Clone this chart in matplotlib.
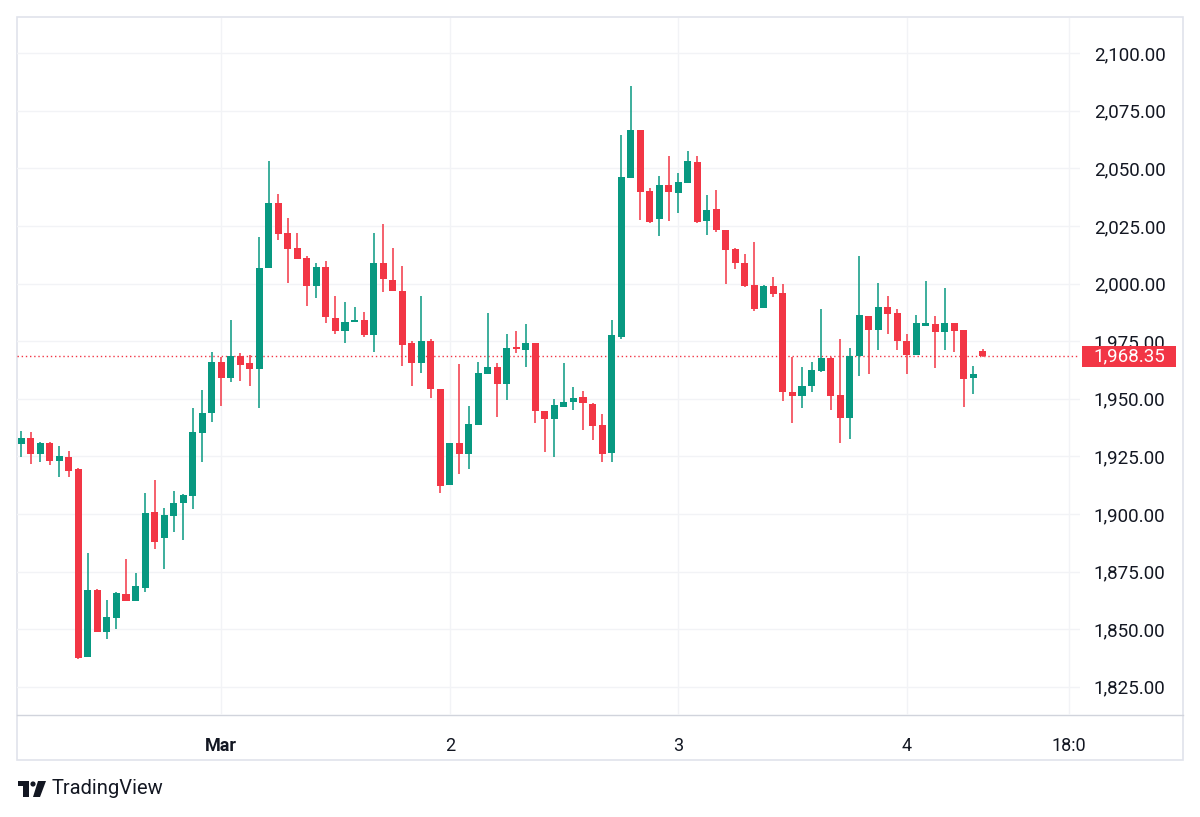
import numpy as np
import matplotlib.pyplot as plt
from matplotlib.patches import Rectangle, Polygon, Circle
from matplotlib.ticker import FuncFormatter

# hourly candles, x = hours from Mar 1 00:00
hours = list(range(-21, 81))
opens = [1930.4, 1932.8, 1926.0, 1931.0, 1923.1, 1924.7, 1919.4, 1838.0, 1867.0, 1848.9,
         1855.0, 1865.2, 1862.2, 1867.7, 1901.0, 1889.4, 1899.1, 1904.6, 1907.8, 1935.3,
         1943.9, 1965.9, 1958.9, 1968.6, 1965.4, 1962.8, 2006.9, 2034.8, 2022.1, 2015.4,
         2011.2, 1999.1, 2007.3, 1985.2, 1979.4, 1983.5, 1984.2, 1977.7, 2008.8, 2001.6,
         1996.8, 1974.1, 1965.7, 1975.2, 1954.2, 1912.6, 1930.6, 1926.0, 1938.6, 1960.8,
         1963.6, 1956.3, 1972.2, 1971.2, 1974.4, 1944.8, 1941.1, 1946.3, 1948.4, 1950.6,
         1947.7, 1938.5, 1926.6, 1976.7, 2045.7, 2066.7, 2040.2, 2027.9, 2042.8, 2039.2,
         2043.8, 2052.9, 2027.2, 2032.5, 2023.3, 2014.9, 2008.8, 1999.4, 1989.3, 1999.0,
         1995.8, 1952.8, 1951.2, 1955.7, 1962.2, 1967.8, 1951.6, 1941.5, 1968.7, 1985.9,
         1979.9, 1989.7, 1987.4, 1975.2, 1969.0, 1981.6, 1982.5, 1978.8, 1983.0, 1979.9,
         1959.2, 1970.9]
highs = [1936.2, 1935.4, 1931.2, 1931.2, 1929.7, 1927.5, 1920.1, 1882.9, 1867.3, 1862.6,
         1866.3, 1880.3, 1874.2, 1909.0, 1914.7, 1902.4, 1910.0, 1908.7, 1946.1, 1953.8,
         1970.4, 1968.0, 1984.2, 1970.0, 1969.0, 2020.4, 2053.4, 2038.8, 2028.6, 2022.1,
         2012.0, 2008.8, 2009.8, 1994.6, 1992.1, 1989.7, 1987.8, 2022.1, 2025.9, 2015.3,
         2007.6, 1975.2, 1994.6, 1975.8, 1954.2, 1930.6, 1964.9, 1946.9, 1965.8, 1987.4,
         1965.7, 1978.0, 1979.6, 1982.5, 1974.4, 1944.8, 1949.9, 1965.4, 1955.0, 1953.4,
         1948.3, 1943.4, 1984.2, 2064.5, 2085.8, 2066.7, 2041.4, 2046.7, 2055.4, 2047.9,
         2057.7, 2055.4, 2038.5, 2040.6, 2023.3, 2015.3, 2012.9, 2018.2, 1999.4, 2002.7,
         1999.7, 1968.0, 1963.9, 1965.8, 1989.0, 1968.3, 1975.9, 1971.9, 2012.1, 1985.9,
         2000.1, 1994.6, 1988.8, 1978.0, 1986.2, 2001.1, 1985.9, 1997.9, 1983.0, 1979.9,
         1964.2, 1971.5]
lows = [1924.9, 1921.7, 1922.7, 1921.3, 1916.2, 1916.2, 1836.9, 1838.0, 1848.9, 1845.6,
        1849.9, 1862.2, 1862.2, 1866.3, 1884.8, 1876.0, 1892.3, 1888.7, 1902.0, 1922.7,
        1940.0, 1946.8, 1957.4, 1957.8, 1955.5, 1946.1, 2006.9, 2018.9, 2000.1, 2010.7,
        1990.3, 1993.6, 1982.7, 1978.1, 1974.1, 1983.5, 1976.7, 1970.4, 1996.5, 1996.9,
        1964.4, 1955.7, 1961.0, 1950.2, 1908.9, 1912.6, 1917.2, 1919.4, 1938.6, 1960.8,
        1941.9, 1949.5, 1970.0, 1963.9, 1939.6, 1927.0, 1924.6, 1946.3, 1945.1, 1936.4,
        1932.1, 1922.7, 1922.7, 1975.8, 2045.7, 2027.6, 2026.2, 2020.7, 2027.3, 2030.5,
        2043.8, 2026.2, 2021.1, 2022.6, 1999.8, 2006.2, 1998.7, 1988.2, 1989.3, 1994.3,
        1949.0, 1939.6, 1945.8, 1953.1, 1961.8, 1945.1, 1930.6, 1932.5, 1960.0, 1960.6,
        1971.2, 1978.1, 1971.2, 1960.7, 1969.0, 1981.6, 1963.5, 1971.2, 1970.4, 1946.3,
        1951.9, 1968.0]
closes = [1932.8, 1926.0, 1931.0, 1923.1, 1925.2, 1918.8, 1837.3, 1867.0, 1848.9, 1855.4,
          1865.5, 1862.2, 1868.7, 1900.6, 1888.0, 1899.5, 1904.9, 1908.2, 1935.7, 1943.9,
          1965.9, 1958.9, 1968.6, 1964.5, 1962.8, 2006.6, 2034.8, 2021.5, 2015.0, 2010.7,
          1999.1, 2007.3, 1985.6, 1979.4, 1983.5, 1984.2, 1977.7, 2008.8, 2001.9, 1996.9,
          1973.4, 1965.7, 1975.2, 1954.1, 1912.1, 1930.6, 1926.0, 1938.9, 1961.0, 1963.6,
          1956.3, 1971.9, 1971.8, 1974.4, 1944.8, 1941.1, 1947.1, 1948.7, 1950.5, 1948.0,
          1938.2, 1926.0, 1977.7, 2046.4, 2066.7, 2039.9, 2026.9, 2042.8, 2039.9, 2044.0,
          2053.4, 2026.9, 2031.9, 2023.3, 2014.6, 2008.8, 1998.9, 1988.8, 1999.0, 1995.3,
          1953.1, 1951.2, 1955.5, 1962.5, 1967.8, 1951.3, 1941.8, 1968.6, 1986.4, 1979.9,
          1989.7, 1986.8, 1975.1, 1969.0, 1983.0, 1983.0, 1978.8, 1983.0, 1979.6, 1958.4,
          1960.6, 1968.35]

price_ticks = [1825, 1850, 1875, 1900, 1925, 1950, 1975, 2000, 2025, 2050, 2075, 2100]
time_ticks = [0, 24, 48, 72, 89]
time_labels = ["Mar", "2", "3", "4", "18:0"]
last_price = 1968.35

UP = "#089981"
DOWN = "#F23645"
GRID = "#F2F3F6"
TEXT = "#131722"

plt.rcParams['font.family'] = ['Roboto', 'DejaVu Sans']

W, H = 1200, 817
fig = plt.figure(figsize=(W / 100, H / 100), dpi=100)

# background layer in pixel coordinates (frame, logo)
bg = fig.add_axes([0, 0, 1, 1], zorder=0)
bg.set_xlim(0, W)
bg.set_ylim(H, 0)
bg.axis("off")
bg.add_patch(Rectangle((17, 17), 1166, 743, fill=False, ec="#E0E3EB", lw=1.2))
bg.plot([17, 1183], [715, 715], color="#D1D4DC", lw=1.0)
# TradingView logo
bg.add_patch(Rectangle((18, 781), 11, 5, color=TEXT, lw=0))
bg.add_patch(Rectangle((23, 781), 6, 16, color=TEXT, lw=0))
bg.add_patch(Circle((33, 784), 2.6, color=TEXT, lw=0))
bg.add_patch(Polygon([(38, 781), (46, 781), (40, 797), (33, 797)], closed=True, color=TEXT, lw=0))
bg.text(52, 789, "TradingView", fontsize=14.5, color=TEXT, va="center", ha="left")

ax = fig.add_axes([17 / W, 1 - 715 / H, (1080 - 17) / W, (715 - 18) / H], zorder=1)
ax.patch.set_alpha(0)

o = np.array(opens)
h = np.array(highs)
l = np.array(lows)
c = np.array(closes)
x = np.array(hours)
colors = np.where(c >= o, UP, DOWN)

ax.vlines(x, l, h, colors=colors, lw=1.1, zorder=3)
body_h = np.maximum(np.abs(c - o), 0.6)
ax.bar(x, body_h, bottom=np.minimum(o, c), width=0.74, color=colors, lw=0, zorder=4)

ax.axhline(last_price, color=DOWN, lw=1, ls=(0, (1, 2)), zorder=2)

ax.set_xlim(-21.45, 90.2)
ax.set_ylim(1812.7, 2115.3)

ax.set_yticks(price_ticks)
ax.yaxis.set_major_formatter(FuncFormatter(lambda v, p: f"{v:,.2f}"))
ax.yaxis.tick_right()
ax.tick_params(axis="y", length=0, pad=10, labelsize=13.5, labelcolor=TEXT)

ax.set_xticks(time_ticks)
ax.set_xticklabels(time_labels)
ax.tick_params(axis="x", length=0, pad=16, labelsize=13, labelcolor=TEXT)
ax.get_xticklabels()[0].set_fontweight("bold")
ax.get_xticklabels()[-1].set_x(88.4)

ax.grid(True, color=GRID, lw=1, zorder=0)
for s in ax.spines.values():
    s.set_visible(False)

# last price tag on the price scale
ytr = ax.get_yaxis_transform()
ax.add_patch(Rectangle((1.002, last_price - 4.6), 0.088, 9.2, transform=ytr,
                       fc=DOWN, ec="none", clip_on=False, zorder=6))
ax.text(1.046, last_price, f"{last_price:,.2f}", transform=ytr,
        color="white", fontsize=13.5, va="center", ha="center", zorder=7)

fig.savefig("out.png", dpi=100, facecolor="white")
